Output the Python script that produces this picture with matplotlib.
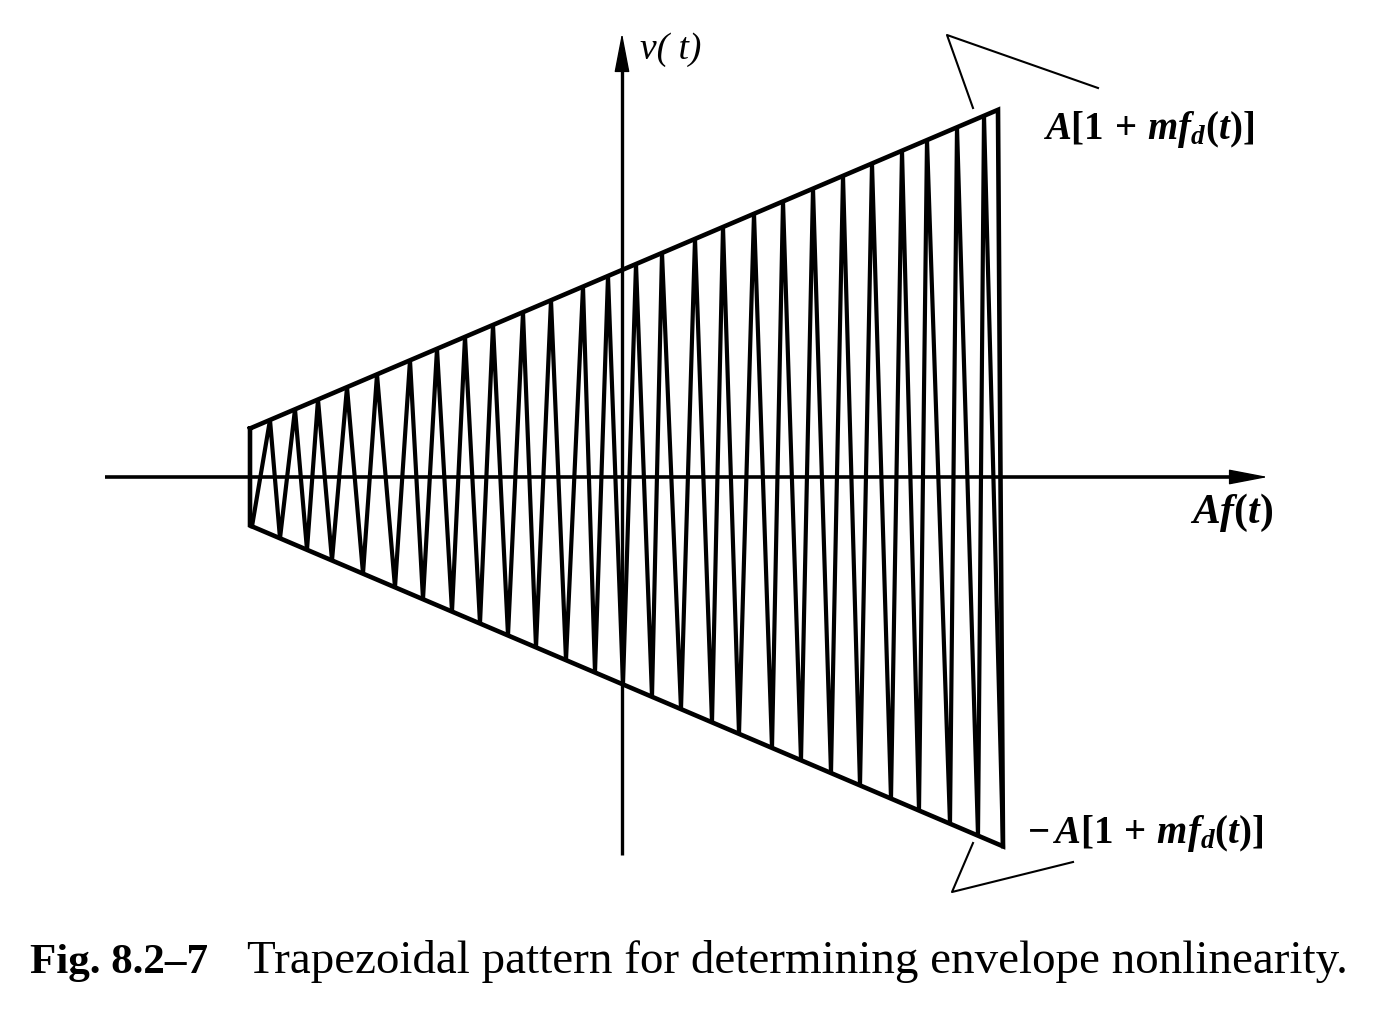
import matplotlib
matplotlib.use("Agg")
import matplotlib.pyplot as plt
import numpy as np

plt.rcParams['mathtext.fontset'] = 'custom'
plt.rcParams['mathtext.rm'] = 'Liberation Serif:bold'
plt.rcParams['mathtext.it'] = 'Liberation Serif:italic:bold'
plt.rcParams['mathtext.bf'] = 'Liberation Serif:bold'

# horizontal positions of the zigzag turning points (units from the origin)
valley_x = [-370, -342, -315, -290, -259, -227, -199, -170, -142, -114, -86, -56, -27,
            1, 30, 59, 90, 117, 150, 179, 209, 238, 269, 297, 328, 356, 381]
peak_x = [-352, -327, -304, -275, -245, -212, -185, -157, -129, -99, -71, -39, -14,
          14, 40, 73, 101, 132, 161, 191, 221, 250, 280, 305, 335, 362]

# envelope A[1 + m f(t)] drawn against A f(t)
A = 207.0
m = 0.426
x_left = -372
x_right_top = 376
x_right_bot = 381

caption_bold = 'Fig. 8.2–7'
caption_text = 'Trapezoidal pattern for determining envelope nonlinearity.'


def envelope(x):
    return A + m * np.asarray(x, dtype=float)


fig = plt.figure(figsize=(13.74, 10.14), dpi=100)
ax = fig.add_axes([0, 0, 1, 1])
ax.set_xlim(-622, 752)
ax.set_ylim(-537, 477)
ax.axis('off')

# axes with arrows
ax.plot([-517, 620], [0, 0], color='k', lw=2.6, solid_capstyle='butt')
ax.plot([0, 0], [-378, 420], color='k', lw=2.4, solid_capstyle='butt')
ax.annotate('', xy=(646, 0), xytext=(600, 0),
            arrowprops=dict(arrowstyle='-|>,head_length=25,head_width=4.8',
                            mutation_scale=1, color='k', lw=1, shrinkA=0, shrinkB=0))
ax.annotate('', xy=(0, 444), xytext=(0, 400),
            arrowprops=dict(arrowstyle='-|>,head_length=25,head_width=4.8',
                            mutation_scale=1, color='k', lw=1, shrinkA=0, shrinkB=0))

# trapezoid frame
fx = [x_left, x_right_top, x_right_bot, x_left, x_left]
fy = [envelope(x_left), envelope(x_right_top), -envelope(x_right_bot),
      -envelope(x_left), envelope(x_left)]
ax.plot(fx, fy, color='k', lw=3.3, solid_joinstyle='miter')

# zigzag
zx, zy = [], []
for i, vx in enumerate(valley_x):
    zx.append(vx)
    zy.append(-envelope(vx))
    if i < len(peak_x):
        zx.append(peak_x[i])
        zy.append(envelope(peak_x[i]))
ax.plot(zx, zy, color='k', lw=3.0, solid_joinstyle='miter')

# brackets next to the envelope labels
ax.plot([351, 325, 476], [369, 442, 389], color='k', lw=1.5)
ax.plot([351, 330, 451], [-366, -415, -385], color='k', lw=1.5)

# labels
ax.text(18, 427, 'v( t)', fontsize=27, family='Liberation Serif', style='italic',
        ha='left', va='center')
ax.text(421, 347, r'$A[1\,+\,mf_d(t)]$', fontsize=28, ha='left', va='center')
ax.text(405, -356, r'$-\,A[1\,+\,mf_d(t)]$', fontsize=28, ha='left', va='center')
ax.text(568, -36, r'$Af(t)$', fontsize=30, ha='left', va='center')

ax.text(-592, -496, caption_bold, fontsize=31, family='Liberation Serif',
        weight='bold', ha='left', va='baseline')
ax.text(-375, -496, caption_text, fontsize=33.8, family='Liberation Serif',
        ha='left', va='baseline')

fig.savefig('out.png', dpi=100, facecolor='white')
